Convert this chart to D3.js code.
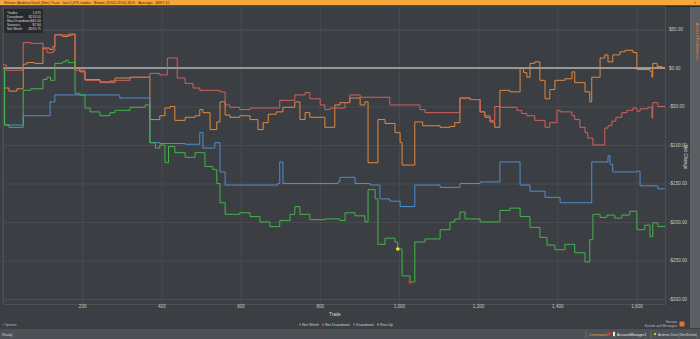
<!DOCTYPE html>
<html><head><meta charset="utf-8">
<script src="https://cdn.jsdelivr.net/npm/d3@7"></script>
<style>
html,body{margin:0;padding:0;background:#3b3e43;overflow:hidden}
svg{display:block;font-family:"Liberation Sans",Arial,sans-serif}
</style></head><body><svg id="c" width="700" height="339"></svg>
<script>
// ---------- data ----------
const seriesNames = ["Net Worth", "Net Drawdown", "Drawdown", "Run-Up"];
const xTickValues = [200, 400, 600, 800, 1000, 1200, 1400, 1600];
const yTickValues = [50, 0, -50, -100, -150, -200, -250, -300];
const infoLabels = ["Trades", "Drawdown", "Max Drawdown", "Variance", "Net Worth"];
const infoValues = ["1,675", "-$216.50", "-$45.50", "$7.84", "-$205.75"];

const netWorth = [[0,0],[4,-74],[15,-77],[51,-29],[70,-27],[101,-15],[111,-12],[120,-16],[131,6],[150,8],[158,10],[165,7],
 [182,-33],[194,-35],[207,-52],[220,-57],[245,-62],[270,-58],[283,-55],[321,-51],[359,-48],[371,-97],[385,-104],[396,-100],
 [409,-123],[418,-102],[434,-110],[460,-116],[485,-110],[497,-110],[510,-128],[530,-132],[540,-150],[548,-175],[561,-190],
 [598,-188],[624,-193],[649,-200],[674,-206],[699,-198],[725,-190],[737,-180],[750,-190],[775,-197],[813,-196],[851,-198],
 [864,-188],[889,-192],[914,-200],[922,-158],[940,-170],[947,-229],[965,-221],[990,-226],[997,-235],[1008,-270],[1028,-278],
 [1040,-226],[1066,-222],[1104,-210],[1129,-200],[1141,-196],[1154,-187],[1167,-196],[1205,-200],[1255,-185],[1280,-182],
 [1306,-193],[1331,-207],[1356,-220],[1374,-230],[1394,-236],[1419,-229],[1444,-240],[1470,-252],[1482,-223],[1490,-190],
 [1508,-194],[1525,-191],[1545,-195],[1563,-191],[1583,-186],[1601,-210],[1621,-204],[1634,-219],[1641,-201],[1654,-206],[1672,-206]];

const netDrawdown = [[0,4],[8,-3],[51,33],[70,32],[101,25],[111,20],[126,22],[131,43],[160,42],[175,44],[182,-3],[207,-16],
 [245,-19],[283,-16],[321,-12],[359,-12],[371,-7],[396,-9],[415,13],[440,-13],[460,-20],[480,-26],[497,-29],[548,-31],
 [561,-48],[573,-51],[598,-54],[624,-52],[699,-42],[737,-35],[763,-32],[775,-40],[801,-48],[813,-54],[826,-52],[864,-45],
 [876,-35],[902,-38],[977,-48],[1053,-54],[1066,-58],[1154,-39],[1180,-41],[1205,-57],[1217,-62],[1230,-68],[1242,-50],
 [1255,-51],[1298,-55],[1310,-59],[1323,-62],[1343,-68],[1369,-77],[1381,-71],[1399,-55],[1407,-57],[1437,-62],[1444,-67],
 [1457,-77],[1470,-84],[1477,-91],[1490,-100],[1520,-78],[1528,-75],[1538,-69],[1548,-64],[1563,-58],[1576,-55],[1591,-52],
 [1601,-56],[1609,-53],[1629,-51],[1639,-65],[1641,-45],[1654,-50],[1672,-50]];

const drawdown = [[0,0],[4,-74],[51,-62],[119,-44],[131,-35],[295,-39],[371,-97],[396,-98],[460,-99],[497,-84],[505,-104],
 [535,-97],[548,-135],[561,-152],[694,-150],[699,-122],[707,-150],[846,-148],[851,-142],[880,-142],[889,-150],[927,-152],
 [952,-170],[977,-173],[1003,-180],[1040,-152],[1104,-155],[1154,-150],[1205,-148],[1255,-122],[1306,-152],[1331,-160],
 [1369,-168],[1407,-175],[1487,-122],[1528,-114],[1533,-125],[1540,-135],[1601,-134],[1609,-153],[1654,-157],[1672,-157]];

const runUp = [[0,0],[4,-26],[15,-30],[35,-27],[51,5],[60,7],[80,6],[101,26],[118,24],[126,28],[131,43],[150,41],[165,44],
 [182,0],[194,-5],[207,-15],[245,-18],[270,-17],[283,-13],[321,-12],[359,-12],[371,-67],[396,-62],[409,-52],[422,-50],
 [434,-68],[460,-64],[485,-62],[497,-54],[505,-58],[523,-80],[540,-70],[548,-44],[561,-61],[573,-64],[598,-62],[624,-67],
 [644,-80],[657,-71],[670,-60],[690,-57],[707,-51],[737,-44],[750,-67],[763,-58],[775,-64],[813,-77],[838,-48],[851,-45],
 [876,-39],[902,-48],[914,-44],[922,-123],[947,-67],[965,-72],[990,-84],[1003,-97],[1008,-126],[1040,-70],[1060,-75],
 [1104,-77],[1129,-76],[1141,-71],[1154,-39],[1180,-41],[1205,-57],[1217,-64],[1230,-70],[1242,-77],[1255,-29],[1280,-31],
 [1306,0],[1315,-6],[1323,-12],[1331,6],[1343,8],[1356,-16],[1369,-40],[1381,-28],[1394,-16],[1419,-14],[1437,-5],[1444,-19],
 [1470,-31],[1482,-44],[1487,-12],[1508,13],[1520,17],[1528,8],[1540,17],[1558,21],[1571,23],[1591,20],[1601,-2],[1634,-4],
 [1639,-12],[1641,6],[1652,2],[1664,0],[1672,0]];

const zeroLine = [[0,0],[1672,0]];
const markerTrades = [997, 1028];
const markerValues = [-235, -278];

// ---------- drawing ----------
const svg = d3.select("#c");
const W = 700, H = 339;
const L = 3, R = 665, T = 7, B = 304;
const x = d3.scaleLinear().domain([0, 1672]).range([L, R]);
const y = d3.scaleLinear().domain([-300, 50]).range([299, 29.5]);
const FONT = "4.6px";
const colors = {"Net Worth":"#45b549","Net Drawdown":"#d4625c","Drawdown":"#4d8fd3","Run-Up":"#e28a3d"};

svg.append("rect").attr("width",W).attr("height",H).attr("fill","#3b3e43");
// title bar
svg.append("rect").attr("x",0).attr("y",0).attr("width",W).attr("height",5.5).attr("fill","#f3a73c");
svg.append("rect").attr("x",0).attr("y",5.5).attr("width",W).attr("height",1.5).attr("fill","#2c2e31");
svg.append("text").attr("x",4).attr("y",4.2).attr("font-size","3.8px").attr("fill","#3a2a12")
  .text("Return: Andrew Devil (Sim) Trust · last 1,675 trades · Brown 25%/L25%/L45% · Average: -$367.12");
svg.append("text").attr("x",694).attr("y",4.3).attr("font-size","4px").attr("fill","#3a2a12").text("×");

// right sidebar
svg.append("rect").attr("x",690).attr("y",7).attr("width",10).attr("height",321).attr("fill","#5b5e62");
svg.append("text").attr("transform","translate(696,23) rotate(90)").attr("font-size","3.8px").attr("fill","#e7962e")
  .text("Account Performance");

// grid
const gx = svg.append("g").attr("transform",`translate(0,${B})`)
  .call(d3.axisBottom(x).tickValues(xTickValues).tickSize(-(B-T)).tickFormat(d3.format(",")));
gx.select(".domain").attr("stroke","#4c4f54");
gx.selectAll(".tick line").attr("stroke","#4b4e53").attr("stroke-width",0.8);
gx.selectAll(".tick text").attr("fill","#c9c9c9").attr("font-size",FONT).attr("dy","0.1em").attr("y",4);

const gy = svg.append("g").attr("transform",`translate(${R},0)`)
  .call(d3.axisRight(y).tickValues(yTickValues).tickSize(-(R-L)).tickFormat(d => (d<0?"-":"")+"$"+d3.format(".2f")(Math.abs(d))));
gy.select(".domain").attr("stroke","#4c4f54");
gy.selectAll(".tick line").attr("stroke","#4b4e53").attr("stroke-width",0.8);
gy.selectAll(".tick text").attr("fill","#c9c9c9").attr("font-size",FONT).attr("x",4);
svg.append("line").attr("x1",L).attr("x2",L).attr("y1",T).attr("y2",B).attr("stroke","#4c4f54");
svg.append("line").attr("x1",L).attr("x2",R).attr("y1",T).attr("y2",T).attr("stroke","#4c4f54");

// axis titles
svg.append("text").attr("x",335).attr("y",316).attr("text-anchor","middle").attr("font-size",FONT).attr("fill","#d6d6d6").text("Trade");
svg.append("text").attr("transform","translate(684,157) rotate(90)").attr("text-anchor","middle").attr("font-size",FONT).attr("fill","#d6d6d6").text("Net Change");

// lines
const line = d3.line().x(d=>x(d[0])).y(d=>y(d[1])).curve(d3.curveStepAfter);
const seriesData = [runUp, netDrawdown, drawdown, netWorth];
const seriesKeys = ["Run-Up","Net Drawdown","Drawdown","Net Worth"];
svg.append("path").datum(zeroLine).attr("d",d3.line().x(d=>x(d[0])).y(d=>y(d[1]))).attr("stroke","#e9e9e9").attr("stroke-width",1.2).attr("fill","none");
seriesData.forEach((s,i)=>{
  svg.append("path").datum(s).attr("d",line).attr("fill","none")
    .attr("stroke",colors[seriesKeys[i]]).attr("stroke-width",1).attr("stroke-linejoin","round");
});

// markers
svg.append("circle").attr("cx",x(markerTrades[0])).attr("cy",y(markerValues[0])).attr("r",1.8).attr("fill","#f3e23a");
svg.append("path").attr("d",d3.symbol().type(d3.symbolTriangle).size(9))
  .attr("transform",`translate(${x(markerTrades[1])},${y(markerValues[1])}) rotate(180)`).attr("fill","#e0312b");

// info box
svg.append("rect").attr("x",4).attr("y",9).attr("width",39).attr("height",24).attr("fill","#26282b").attr("opacity",0.92);
infoLabels.forEach((l,i)=>{
  svg.append("text").attr("x",7).attr("y",14+i*4.1).attr("font-size","3.4px").attr("fill","#d8d8d8").text(l);
  svg.append("text").attr("x",41).attr("y",14+i*4.1).attr("font-size","3.4px").attr("fill","#d8d8d8").attr("text-anchor","end").text(infoValues[i]);
});

// legend
const lg = svg.append("g");
let lx = 299;
seriesNames.forEach(n=>{
  lg.append("circle").attr("cx",lx+1).attr("cy",324.6).attr("r",1).attr("fill",colors[n]);
  const t = lg.append("text").attr("x",lx+3).attr("y",326).attr("font-size","3.8px").attr("fill","#cfcfcf").text(n);
  lx += 3 + t.node().getComputedTextLength() + 3;
});

// options and bottom right hints
svg.append("text").attr("x",2).attr("y",326.3).attr("font-size","3.6px").attr("fill","#bdbdbd").text("‹ Options");
svg.append("text").attr("x",677).attr("y",322.5).attr("font-size","3.2px").attr("fill","#bdbdbd").attr("text-anchor","end").text("Session");
svg.append("text").attr("x",677).attr("y",326.5).attr("font-size","3.2px").attr("fill","#bdbdbd").attr("text-anchor","end").text("Sounds and Messages");
svg.append("rect").attr("x",679.5).attr("y",321.5).attr("width",5).attr("height",5).attr("rx",1).attr("fill","#e2752c");

// status bar
svg.append("rect").attr("x",0).attr("y",329).attr("width",W).attr("height",10).attr("fill","#4d5054");
svg.append("text").attr("x",2).attr("y",336).attr("font-size","3.6px").attr("fill","#cfcfcf").text("Ready");
svg.append("line").attr("x1",586).attr("x2",586).attr("y1",330).attr("y2",338).attr("stroke","#6a6d71");
svg.append("text").attr("x",589).attr("y",336).attr("font-size","3.6px").attr("fill","#e0b030").text("Continuous");
svg.append("circle").attr("cx",609).attr("cy",334).attr("r",1.8).attr("fill","#d43a3a");
svg.append("rect").attr("x",613).attr("y",331.8).attr("width",2).attr("height",4.4).attr("fill","#e8e8e8");
svg.append("text").attr("x",617).attr("y",336).attr("font-size","3.6px").attr("fill","#e8e8e8").text("AccountManager1");
svg.append("line").attr("x1",651).attr("x2",651).attr("y1",330).attr("y2",338).attr("stroke","#6a6d71");
svg.append("circle").attr("cx",655).attr("cy",334).attr("r",1.2).attr("fill","#d8c040");
svg.append("text").attr("x",658).attr("y",336).attr("font-size","3.4px").attr("fill","#d8d8d8").text("Andrew Devil (Sim/Demo)");
</script></body></html>
